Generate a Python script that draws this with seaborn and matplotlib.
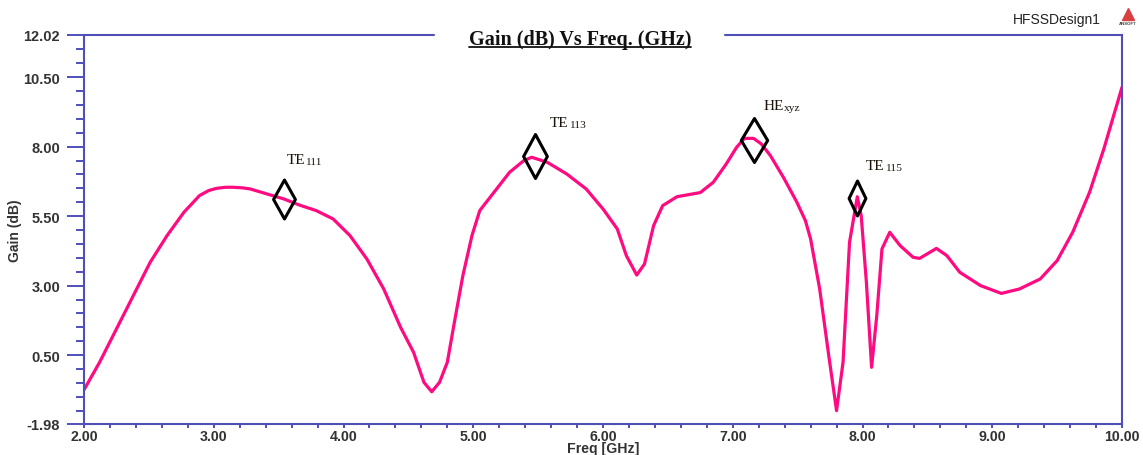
import numpy as np
import pandas as pd
import matplotlib
matplotlib.use("Agg")
import matplotlib.pyplot as plt
import seaborn as sns
from matplotlib.path import Path
from matplotlib.lines import Line2D
from matplotlib.ticker import FixedLocator, MultipleLocator

# ---------------- data ----------------
freq_ghz = [2.00, 2.12, 2.25, 2.38, 2.51, 2.64, 2.77, 2.89, 2.96, 3.02, 3.09, 3.15, 3.22, 3.28, 3.41,
            3.54, 3.66, 3.79, 3.92, 4.05, 4.18, 4.31, 4.44, 4.54, 4.62, 4.68, 4.74,
            4.80, 4.85, 4.92, 4.99, 5.05, 5.18, 5.28, 5.39, 5.45, 5.57, 5.72, 5.87,
            6.00, 6.11, 6.18, 6.26, 6.32, 6.39, 6.46, 6.57, 6.75, 6.85, 6.95, 7.03,
            7.09, 7.16, 7.22, 7.29, 7.39, 7.49, 7.56, 7.60, 7.67, 7.74, 7.80, 7.85,
            7.90, 7.96, 7.99, 8.03, 8.07, 8.11, 8.15, 8.21, 8.29, 8.39, 8.44, 8.57,
            8.65, 8.75, 8.91, 9.07, 9.21, 9.37, 9.50, 9.62, 9.75, 9.86, 10.00]
gain_db = [-0.75, 0.24, 1.44, 2.64, 3.84, 4.80, 5.64, 6.24, 6.42, 6.50, 6.54, 6.54, 6.52, 6.48, 6.30,
           6.12, 5.90, 5.70, 5.40, 4.80, 3.96, 2.88, 1.50, 0.60, -0.48, -0.82, -0.48,
           0.24, 1.56, 3.36, 4.80, 5.70, 6.48, 7.08, 7.50, 7.62, 7.44, 7.02, 6.48,
           5.76, 5.04, 4.08, 3.38, 3.78, 5.16, 5.88, 6.20, 6.35, 6.72, 7.38, 7.98,
           8.30, 8.30, 8.10, 7.68, 6.90, 6.04, 5.34, 4.68, 2.88, 0.48, -1.50, 0.24,
           4.56, 6.20, 5.52, 3.12, 0.06, 1.92, 4.32, 4.92, 4.44, 4.02, 3.98, 4.34,
           4.08, 3.48, 3.00, 2.72, 2.88, 3.24, 3.90, 4.92, 6.36, 7.92, 10.14]

marker_freq = [3.541, 5.476, 7.164, 7.955]
marker_gain = [6.10, 7.655, 8.224, 6.137]
marker_main = ["TE", "TE", "HE", "TE"]
marker_sub = ["111", "113", "xyz", "115"]

y_ticks = [-1.98, 0.50, 3.00, 5.50, 8.00, 10.50, 12.02]
x_ticks = [2.0, 3.0, 4.0, 5.0, 6.0, 7.0, 8.0, 9.0, 10.0]

title_text = "Gain (dB) Vs Freq. (GHz)"
x_label = "Freq [GHz]"
y_label = "Gain (dB)"
design_name = "HFSSDesign1"
logo_text = "ANSOFT"

# ---------------- style ----------------
PINK = "#FF0A80"
AXC = "#4F4FB8"
TICKC = "#333333"
W, H = 1143, 456
# marker style: (height in px, width ratio, label dx px, label dy px)
marker_style = [(39, 0.56, 2.7, 36.5), (44, 0.54, 15, 30), (44, 0.60, 9.3, 31.5), (35, 0.48, 9.3, 29.5)]

sns.set_theme(style="white")
plt.rcParams['font.family'] = ['Liberation Sans', 'DejaVu Sans']

fig = plt.figure(figsize=(W / 100, H / 100), dpi=100)
ax = fig.add_axes([84 / W, 31 / H, 1038 / W, 389 / H])
ax.set_facecolor("white")

df = pd.DataFrame({"Freq": freq_ghz, "Gain": gain_db})
sns.lineplot(data=df, x="Freq", y="Gain", ax=ax, color=PINK, lw=2.3, sort=False)

px2pt = 0.72
for f, g, main, sub, (hpx, wr, dx, dy) in zip(marker_freq, marker_gain, marker_main, marker_sub, marker_style):
    path = Path([(0, 1), (wr, 0), (0, -1), (-wr, 0), (0, 1)],
                [Path.MOVETO, Path.LINETO, Path.LINETO, Path.LINETO, Path.CLOSEPOLY])
    ax.plot([f], [g], marker=path, ms=hpx * px2pt, mfc="none", mec="black", mew=2.2,
            ls="none", solid_joinstyle="miter", zorder=5)
    t = ax.annotate(main, xy=(f, g), xytext=(dx * px2pt, dy * px2pt), textcoords="offset points",
                    ha="left", va="baseline", fontfamily="Liberation Serif", fontsize=11,
                    color="#1a1208")
    ax.annotate(sub, xy=(1, 0), xycoords=t, xytext=(0, 0), textcoords="offset points",
                ha="left", va="bottom", fontfamily="Liberation Serif", fontsize=8.2,
                color="#1a1208")

ax.set_xlim(2, 10)
ax.set_ylim(-1.98, 12.02)
ax.set_xticks(x_ticks)
ax.set_xticklabels([f"{v:.2f}" for v in x_ticks])
ax.set_yticks(y_ticks)
ax.set_yticklabels([f"{v:.2f}" for v in y_ticks])
ax.yaxis.set_minor_locator(FixedLocator(np.arange(-1.5, 12.0, 0.5)))
ax.xaxis.set_minor_locator(MultipleLocator(0.2))

ax.tick_params(axis="y", which="major", direction="out", length=12.2, width=1.4, color=AXC,
               pad=5, labelsize=10.5, labelcolor=TICKC, left=True)
ax.tick_params(axis="y", which="minor", direction="out", length=5.8, width=1.4, color=AXC, left=True)
ax.tick_params(axis="x", which="major", direction="out", length=3, width=1.4, color=AXC,
               pad=0.7, labelsize=10.2, labelcolor=TICKC, bottom=True)
ax.tick_params(axis="x", which="minor", direction="out", length=3, width=1.4, color=AXC, bottom=True)
for lab in ax.get_xticklabels() + ax.get_yticklabels():
    lab.set_fontweight("bold")

for s in ["left", "bottom", "right"]:
    ax.spines[s].set_visible(True)
    ax.spines[s].set_color(AXC)
    ax.spines[s].set_linewidth(1.5)
ax.spines["top"].set_visible(False)
gap_l = (434 - 84) / 1038
gap_r = (725 - 84) / 1038
for x0, x1 in [(0, gap_l), (gap_r, 1)]:
    ax.add_line(Line2D([x0, x1], [1, 1], transform=ax.transAxes, color=AXC, lw=1.5, clip_on=False))

ax.set_xlabel(x_label, fontsize=10.2, fontweight="bold", color=TICKC)
ax.xaxis.set_label_coords(0.5, (H - 449 - 31) / 389)
ax.xaxis.label.set_va("center")
ax.set_ylabel(y_label, fontsize=10, fontweight="bold", color=TICKC)
ax.yaxis.set_label_coords((15 - 84) / 1038, 0.5)
ax.yaxis.label.set_va("center")

title = fig.text(580 / W, 1 - 45 / H, title_text, ha="center", va="baseline",
                 fontfamily="Liberation Serif", fontweight="bold", fontsize=14.5, color="#111111")
fig.text(1013 / W, 1 - 20 / H, design_name, ha="left", va="center", fontsize=10, color="#222222")
fig.add_artist(Line2D([1128 / W], [1 - 15 / H], transform=fig.transFigure, marker="^",
                      ms=8, color="#D84040", ls="none"))
fig.text(1128 / W, 1 - 24 / H, logo_text, ha="center", va="center", fontsize=3.2,
         fontweight="bold", color="#444444")

fig.canvas.draw()
bb = title.get_window_extent()
uy = (H - 47.5) / H
fig.add_artist(Line2D([bb.x0 / W, bb.x1 / W], [uy, uy], transform=fig.transFigure,
                      color="#111111", lw=1.3))

fig.savefig("out.png", dpi=100)
